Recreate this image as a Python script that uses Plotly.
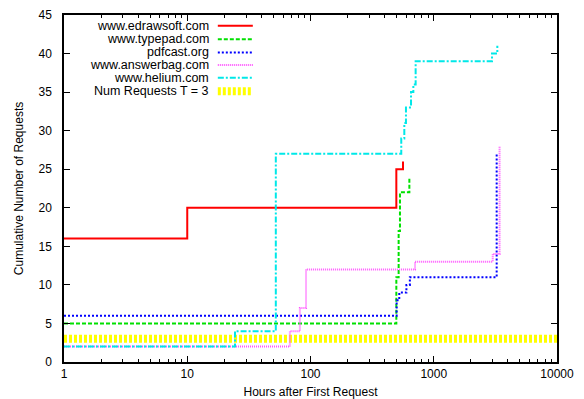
import plotly.graph_objects as go

# ---- data ----
series_names = ["www.edrawsoft.com", "www.typepad.com", "pdfcast.org",
                "www.answerbag.com", "www.helium.com", "Num Requests T = 3"]

edraw_hours = [1, 10, 497, 563]
edraw_reqs = [16, 20, 25, 26]

typepad_hours = [1, 497, 519, 532, 634]
typepad_reqs = [5, 11, 17, 22, 24]

pdfcast_hours = [1, 500, 525, 600, 640, 3240]
pdfcast_reqs = [6, 8, 9, 10, 11, 27]

answerbag_hours = [1, 68, 82, 92, 705, 3010, 3420]
answerbag_reqs = [2, 4, 7, 12, 13, 14, 28]

helium_hours = [1, 24.4, 52.3, 545, 577, 595, 654, 683, 713, 2970, 3280]
helium_reqs = [2, 4, 27, 29, 31, 33, 35, 36, 39, 40, 41]

threshold_hours = [1, 10000]
threshold_reqs = [3, 3]

x_tickvals = [1, 10, 100, 1000, 10000]
x_ticktext = ["1", "10", "100", "1000", "10000"]
y_tickvals = [0, 5, 10, 15, 20, 25, 30, 35, 40, 45]

# ---- styles ----
styles = [
    dict(color="#ff0000", width=2, dash="solid"),
    dict(color="#00e000", width=2, dash="4px,2px"),
    dict(color="#0000ff", width=2, dash="2px,2px"),
    dict(color="#ff55ff", width=2, dash="1px,1px"),
    dict(color="#00e8e8", width=2, dash="6px,2px,2px,2px"),
    dict(color="#ffff00", width=8, dash="3px,2px"),
]
series = [
    (edraw_hours, edraw_reqs),
    (typepad_hours, typepad_reqs),
    (pdfcast_hours, pdfcast_reqs),
    (answerbag_hours, answerbag_reqs),
    (helium_hours, helium_reqs),
    (threshold_hours, threshold_reqs),
]

fig = go.Figure()
order = [5, 0, 1, 2, 3, 4]
for i in order:
    xs, ys = series[i]
    fig.add_trace(go.Scatter(x=xs, y=ys, mode="lines", name=series_names[i],
                             line=dict(shape="hv", **styles[i]),
                             showlegend=False))

# ---- legend drawn gnuplot-style (text right, sample on the right) ----
FONT = "Liberation Sans, Arial, sans-serif"
row_y = [0.969, 0.930, 0.892, 0.856, 0.819, 0.780]
for i, name in enumerate(series_names):
    fig.add_annotation(x=0.296, y=row_y[i], xref="paper", yref="paper",
                       text=name, showarrow=False, xanchor="right", yanchor="middle",
                       borderpad=0,
                       font=dict(family=FONT, size=12.5, color="#000000"))
    fig.add_shape(type="line", xref="paper", yref="paper",
                  x0=0.312, x1=0.383, y0=row_y[i], y1=row_y[i],
                  line=styles[i])

axis_common = dict(showline=True, linecolor="black", linewidth=1.5,
                   mirror="allticks", ticks="inside", tickcolor="black",
                   ticklen=6, tickwidth=1, showgrid=False, zeroline=False,
                   tickfont=dict(family=FONT, size=12, color="#000000"))

fig.update_xaxes(type="log", range=[0, 4], tickvals=x_tickvals, ticktext=x_ticktext,
                 title=dict(text="Hours after First Request",
                            font=dict(family=FONT, size=12, color="#000000"),
                            standoff=9),
                 minor=dict(ticks="inside", ticklen=3, tickcolor="black", dtick="D1"),
                 **axis_common)
fig.update_yaxes(range=[0, 45], tickvals=y_tickvals, ticklabelstandoff=8,
                 title=dict(text="Cumulative Number of Requests",
                            font=dict(family=FONT, size=12, color="#000000"),
                            standoff=12),
                 **axis_common)

fig.update_layout(width=584, height=399,
                  margin=dict(l=64, r=27, t=15, b=37, autoexpand=False),
                  plot_bgcolor="white", paper_bgcolor="white",
                  font=dict(family=FONT, size=12, color="#000000"))

fig.write_html("out.html")
